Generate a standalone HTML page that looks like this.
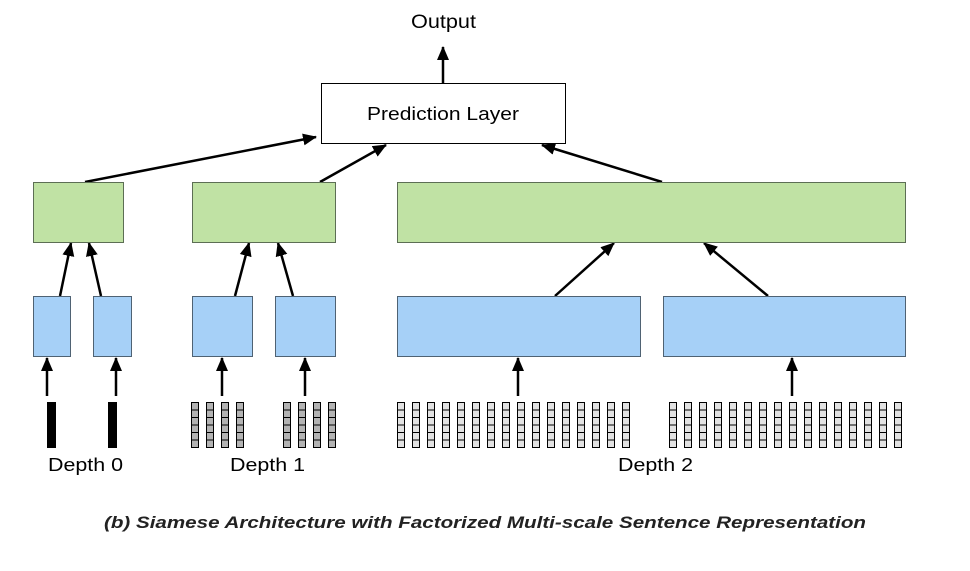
<!DOCTYPE html>
<html><head><style>body{margin:0;background:#fff}svg{display:block}</style></head><body>
<svg width="970" height="571" xmlns="http://www.w3.org/2000/svg" font-family="Liberation Sans, sans-serif">
<defs>
<marker id="b" markerWidth="14" markerHeight="14" refX="13" refY="7" orient="auto" markerUnits="userSpaceOnUse" viewBox="0 0 14 14"><path d="M0,1L14,7L0,13z" fill="#000"/></marker>
</defs>
<text x="411" y="28" font-size="19" textLength="65" lengthAdjust="spacingAndGlyphs">Output</text>
<rect x="321.5" y="83.5" width="244" height="60" fill="#fff" stroke="#000"/>
<text x="367" y="120" font-size="18" textLength="152" lengthAdjust="spacingAndGlyphs">Prediction Layer</text>
<g stroke="#000" stroke-width="2.5" marker-end="url(#b)">
<line x1="443" y1="83" x2="443" y2="47"/>
<line x1="85" y1="182" x2="316" y2="137"/>
<line x1="320" y1="182" x2="386" y2="145"/>
<line x1="662" y1="182" x2="542" y2="145"/>
<line x1="60" y1="296" x2="71" y2="243"/>
<line x1="101" y1="296" x2="89" y2="243"/>
<line x1="235" y1="296" x2="249" y2="243"/>
<line x1="293" y1="296" x2="278" y2="243"/>
<line x1="555" y1="296" x2="614" y2="243"/>
<line x1="768" y1="296" x2="704" y2="243"/>
<line x1="47" y1="396" x2="47" y2="358"/>
<line x1="116" y1="396" x2="116" y2="358"/>
<line x1="222" y1="396" x2="222" y2="358"/>
<line x1="305" y1="396" x2="305" y2="358"/>
<line x1="518" y1="396" x2="518" y2="358"/>
<line x1="792" y1="396" x2="792" y2="358"/>
</g>
<g fill="#c0e2a4" stroke="#5c6e54">
<rect x="33.5" y="182.5" width="90" height="60"/>
<rect x="192.5" y="182.5" width="143" height="60"/>
<rect x="397.5" y="182.5" width="508" height="60"/>
</g>
<g fill="#a6d0f7" stroke="#4f6273">
<rect x="33.5" y="296.5" width="37" height="60"/>
<rect x="93.5" y="296.5" width="38" height="60"/>
<rect x="192.5" y="296.5" width="60" height="60"/>
<rect x="275.5" y="296.5" width="60" height="60"/>
<rect x="397.5" y="296.5" width="243" height="60"/>
<rect x="663.5" y="296.5" width="242" height="60"/>
</g>
<rect x="47" y="402" width="9" height="46" fill="#000"/>
<rect x="108" y="402" width="9" height="46" fill="#000"/>
<text x="48" y="471" font-size="18" textLength="75" lengthAdjust="spacingAndGlyphs">Depth 0</text>
<text x="230" y="471" font-size="18" textLength="75" lengthAdjust="spacingAndGlyphs">Depth 1</text>
<text x="618" y="471" font-size="18" textLength="75" lengthAdjust="spacingAndGlyphs">Depth 2</text>
<text x="104" y="528" font-size="17" font-style="italic" font-weight="bold" fill="#222" textLength="762" lengthAdjust="spacingAndGlyphs">(b) Siamese Architecture with Factorized Multi-scale Sentence Representation</text>
<g stroke="#000" stroke-width="1">
<g fill="#b3b3b3">
<rect x="191.5" y="402.5" width="7" height="45"/><rect x="206.5" y="402.5" width="7" height="45"/><rect x="221.5" y="402.5" width="7" height="45"/><rect x="236.5" y="402.5" width="7" height="45"/>
<rect x="283.5" y="402.5" width="7" height="45"/><rect x="298.5" y="402.5" width="7" height="45"/><rect x="313.5" y="402.5" width="7" height="45"/><rect x="328.5" y="402.5" width="7" height="45"/>
</g>
<g fill="#e2e2e2">
<rect x="397.5" y="402.5" width="7" height="45"/><rect x="412.5" y="402.5" width="7" height="45"/><rect x="427.5" y="402.5" width="7" height="45"/><rect x="442.5" y="402.5" width="7" height="45"/><rect x="457.5" y="402.5" width="7" height="45"/><rect x="472.5" y="402.5" width="7" height="45"/><rect x="487.5" y="402.5" width="7" height="45"/><rect x="502.5" y="402.5" width="7" height="45"/><rect x="517.5" y="402.5" width="7" height="45"/><rect x="532.5" y="402.5" width="7" height="45"/><rect x="547.5" y="402.5" width="7" height="45"/><rect x="562.5" y="402.5" width="7" height="45"/><rect x="577.5" y="402.5" width="7" height="45"/><rect x="592.5" y="402.5" width="7" height="45"/><rect x="607.5" y="402.5" width="7" height="45"/><rect x="622.5" y="402.5" width="7" height="45"/>
<rect x="669.5" y="402.5" width="7" height="45"/><rect x="684.5" y="402.5" width="7" height="45"/><rect x="699.5" y="402.5" width="7" height="45"/><rect x="714.5" y="402.5" width="7" height="45"/><rect x="729.5" y="402.5" width="7" height="45"/><rect x="744.5" y="402.5" width="7" height="45"/><rect x="759.5" y="402.5" width="7" height="45"/><rect x="774.5" y="402.5" width="7" height="45"/><rect x="789.5" y="402.5" width="7" height="45"/><rect x="804.5" y="402.5" width="7" height="45"/><rect x="819.5" y="402.5" width="7" height="45"/><rect x="834.5" y="402.5" width="7" height="45"/><rect x="849.5" y="402.5" width="7" height="45"/><rect x="864.5" y="402.5" width="7" height="45"/><rect x="879.5" y="402.5" width="7" height="45"/><rect x="894.5" y="402.5" width="7" height="45"/>
</g>
<path fill="none" d="M191,410h145M191,417.5h145M191,425h145M191,432.5h145M191,440h145M397,410h233M397,417.5h233M397,425h233M397,432.5h233M397,440h233M669,410h233M669,417.5h233M669,425h233M669,432.5h233M669,440h233"/>
</g>
<g fill="#fff">
<rect x="199" y="405" width="7" height="40"/><rect x="214" y="405" width="7" height="40"/><rect x="229" y="405" width="7" height="40"/><rect x="244" y="405" width="39" height="40"/><rect x="291" y="405" width="7" height="40"/><rect x="306" y="405" width="7" height="40"/><rect x="321" y="405" width="7" height="40"/>
<rect x="405" y="405" width="7" height="40"/><rect x="420" y="405" width="7" height="40"/><rect x="435" y="405" width="7" height="40"/><rect x="450" y="405" width="7" height="40"/><rect x="465" y="405" width="7" height="40"/><rect x="480" y="405" width="7" height="40"/><rect x="495" y="405" width="7" height="40"/><rect x="510" y="405" width="7" height="40"/><rect x="525" y="405" width="7" height="40"/><rect x="540" y="405" width="7" height="40"/><rect x="555" y="405" width="7" height="40"/><rect x="570" y="405" width="7" height="40"/><rect x="585" y="405" width="7" height="40"/><rect x="600" y="405" width="7" height="40"/><rect x="615" y="405" width="7" height="40"/><rect x="630" y="405" width="39" height="40"/>
<rect x="677" y="405" width="7" height="40"/><rect x="692" y="405" width="7" height="40"/><rect x="707" y="405" width="7" height="40"/><rect x="722" y="405" width="7" height="40"/><rect x="737" y="405" width="7" height="40"/><rect x="752" y="405" width="7" height="40"/><rect x="767" y="405" width="7" height="40"/><rect x="782" y="405" width="7" height="40"/><rect x="797" y="405" width="7" height="40"/><rect x="812" y="405" width="7" height="40"/><rect x="827" y="405" width="7" height="40"/><rect x="842" y="405" width="7" height="40"/><rect x="857" y="405" width="7" height="40"/><rect x="872" y="405" width="7" height="40"/><rect x="887" y="405" width="7" height="40"/>
</g>
</svg>
</body></html>
